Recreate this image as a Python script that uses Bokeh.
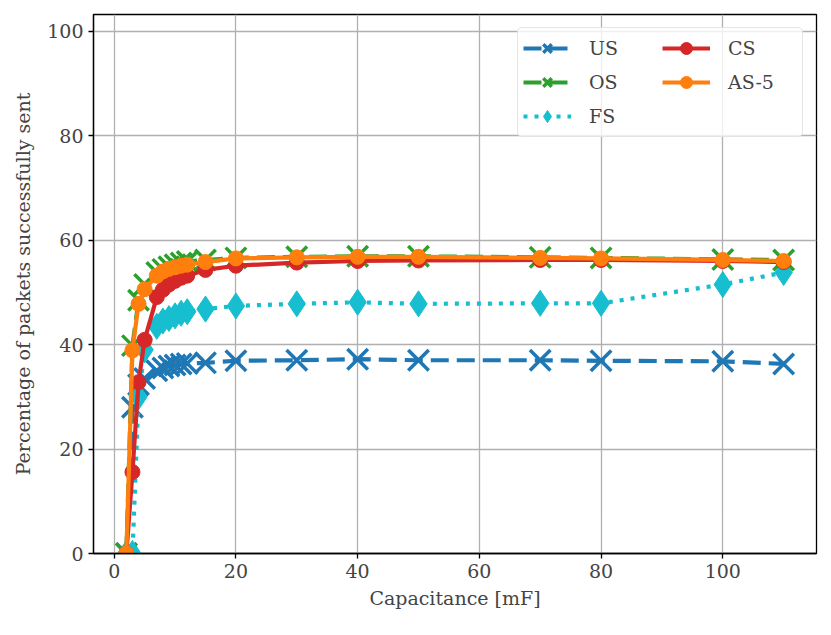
from bokeh.plotting import figure
from bokeh.models import Range1d, FixedTicker, Legend, LegendItem
from bokeh.embed import file_html
from bokeh.resources import INLINE

# ---- data ----
capacitance = [2, 3, 4, 5, 7, 8, 9, 10, 11, 12, 15, 20, 30, 40, 50, 70, 80, 100, 110]
us = [0, 28.0, 32.3, 33.5, 35.0, 35.5, 35.9, 36.1, 36.3, 36.4, 36.5, 36.9, 37.0, 37.2, 37.0, 37.0, 36.9, 36.8, 36.3]
os_ = [0, 39.8, 48.5, 51.5, 53.8, 54.4, 54.9, 55.3, 55.6, 55.9, 56.2, 56.6, 56.8, 56.9, 56.9, 56.7, 56.6, 56.3, 56.2]
fs = [0, 0, 30.0, 39.0, 43.5, 44.5, 45.0, 45.5, 46.0, 46.3, 46.8, 47.4, 47.8, 48.1, 47.8, 47.9, 47.9, 51.5, 53.8]
cs = [0, 15.6, 32.8, 40.9, 49.1, 50.5, 51.5, 52.2, 52.8, 53.2, 54.3, 55.1, 55.7, 56.0, 56.1, 56.2, 56.2, 56.0, 55.8]
as5 = [0, 38.9, 47.8, 50.6, 53.2, 54.0, 54.5, 54.8, 55.1, 55.3, 55.8, 56.5, 56.7, 56.8, 56.8, 56.6, 56.5, 56.2, 56.0]
x_ticks = [0, 20, 40, 60, 80, 100]
y_ticks = [0, 20, 40, 60, 80, 100]

FONT = "DejaVu Serif"
FS_ = "19px"

p = figure(width=823, height=627, output_backend="svg", toolbar_location=None,
           x_range=Range1d(-3.4, 115.4), y_range=Range1d(0, 103.2),
           min_border_left=93, min_border_right=7, min_border_top=14, min_border_bottom=74)

p.outline_line_color = "black"
p.outline_line_width = 1.3
p.background_fill_color = "white"
p.border_fill_color = "white"

for ax in (p.xaxis[0], p.yaxis[0]):
    ax.major_label_text_font = FONT
    ax.major_label_text_font_size = FS_
    ax.axis_label_text_font = FONT
    ax.axis_label_text_font_size = FS_
    ax.axis_label_text_font_style = "normal"
    ax.major_tick_in = 0
    ax.major_tick_out = 5
    ax.minor_tick_in = 0
    ax.minor_tick_out = 0
    ax.major_tick_line_width = 1.3
    ax.axis_line_width = 1.3
    ax.major_label_standoff = 5

p.xaxis.ticker = FixedTicker(ticks=x_ticks)
p.yaxis.ticker = FixedTicker(ticks=y_ticks)
p.xaxis.axis_label = "Capacitance [mF]"
p.yaxis.axis_label = "Percentage of packets successfully sent"
p.xaxis.axis_label_standoff = 6
p.yaxis.axis_label_standoff = 10

p.grid.grid_line_color = "#b0b0b0"
p.grid.grid_line_width = 1.3

LW = 4.2
items = []

def add(label, y, color, dash, marker, msize, filled):
    lr = p.line(capacitance, y, line_color=color, line_width=LW, line_dash=dash)
    if filled:
        sr = p.scatter(capacitance, y, marker=marker, size=msize, fill_color=color,
                       line_color=color, line_width=1)
    else:
        sr = p.scatter(capacitance, y, marker=marker, size=msize, line_color=color,
                       line_width=3.5)
    items.append(LegendItem(label=label, renderers=[lr, sr]))

add("US", us, "#1f77b4", "18 8", "x", 29, False)
add("OS", os_, "#2ca02c", "18 8", "x", 29, False)
add("FS", fs, "#17becf", "4 7", "diamond", 26, True)
add("CS", cs, "#d62728", "solid", "circle", 15, True)
add("AS-5", as5, "#ff7f0e", "solid", "circle", 15, True)

legend = Legend(items=items, location="top_right", ncols=2)
legend.label_text_font = FONT
legend.label_text_font_size = FS_
legend.glyph_width = 48
legend.glyph_height = 30
legend.label_height = 30
legend.label_width = 69
legend.spacing = 4
legend.padding = 5
legend.margin = 13
legend.label_standoff = 18
legend.border_line_color = "#cccccc"
legend.border_line_width = 1.3
legend.border_radius = 5
legend.background_fill_alpha = 0.8
p.add_layout(legend)

open("out.html", "w").write(file_html(p, INLINE))
